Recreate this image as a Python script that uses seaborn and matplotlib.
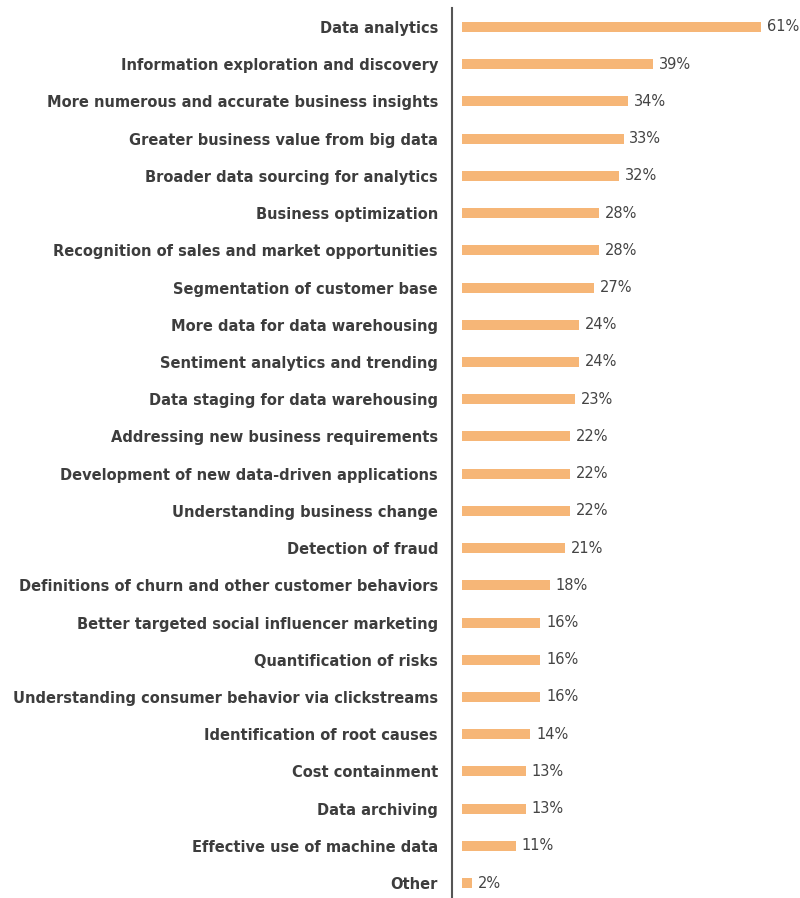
import matplotlib
matplotlib.use("Agg")
import matplotlib.pyplot as plt
import seaborn as sns
import pandas as pd

categories = [
    "Data analytics",
    "Information exploration and discovery",
    "More numerous and accurate business insights",
    "Greater business value from big data",
    "Broader data sourcing for analytics",
    "Business optimization",
    "Recognition of sales and market opportunities",
    "Segmentation of customer base",
    "More data for data warehousing",
    "Sentiment analytics and trending",
    "Data staging for data warehousing",
    "Addressing new business requirements",
    "Development of new data-driven applications",
    "Understanding business change",
    "Detection of fraud",
    "Definitions of churn and other customer behaviors",
    "Better targeted social influencer marketing",
    "Quantification of risks",
    "Understanding consumer behavior via clickstreams",
    "Identification of root causes",
    "Cost containment",
    "Data archiving",
    "Effective use of machine data",
    "Other",
]
values = [61, 39, 34, 33, 32, 28, 28, 27, 24, 24, 23, 22, 22, 22, 21, 18, 16, 16, 16, 14, 13, 13, 11, 2]

df = pd.DataFrame({"category": categories, "value": values})

sns.set_theme(style="white")
plt.rcParams["font.family"] = ["DejaVu Sans"]
plt.rcParams["font.stretch"] = "condensed"

fig = plt.figure(figsize=(8, 8.98), dpi=100)
ax = fig.add_axes([452 / 800, 0, (800 - 452) / 800, 1 - 8 / 898])

bar_color = "#F6B677"
text_color = "#3d3d3d"

sns.barplot(data=df, x="value", y="category", orient="h", color=bar_color,
            width=0.27, saturation=1, ax=ax, edgecolor="none")

ax.set_xlim(-2, 69)
ax.set_ylim(23.4, -0.51)
ax.set_xlabel("")
ax.set_ylabel("")
ax.set_xticks([])
for s in ["top", "right", "bottom"]:
    ax.spines[s].set_visible(False)
ax.spines["left"].set_color("#555555")
ax.spines["left"].set_linewidth(1.5)
ax.tick_params(axis="y", length=0, pad=10)

# fit label font size so the longest label spans ~426 px as in the reference
renderer = fig.canvas.get_renderer()
probe = fig.text(0, 0, max(categories, key=len), fontsize=15, fontweight="bold",
                 fontstretch="condensed")
w = probe.get_window_extent(renderer).width
probe.remove()
label_size = 15 * 420 / w

probe = fig.text(0, 0, "61%", fontsize=14, fontstretch="condensed")
w2 = probe.get_window_extent(renderer).width
probe.remove()
value_size = min(14 * 33 / w2, label_size)

for lbl in ax.get_yticklabels():
    lbl.set_fontweight("bold")
    lbl.set_fontsize(label_size)
    lbl.set_fontstretch("condensed")
    lbl.set_color(text_color)

for i, v in enumerate(values):
    ax.text(v + 1.2, i, f"{v}%", va="center", ha="left", fontsize=value_size,
            color="#444444", fontstretch="condensed")

fig.savefig("out.png", dpi=100)
